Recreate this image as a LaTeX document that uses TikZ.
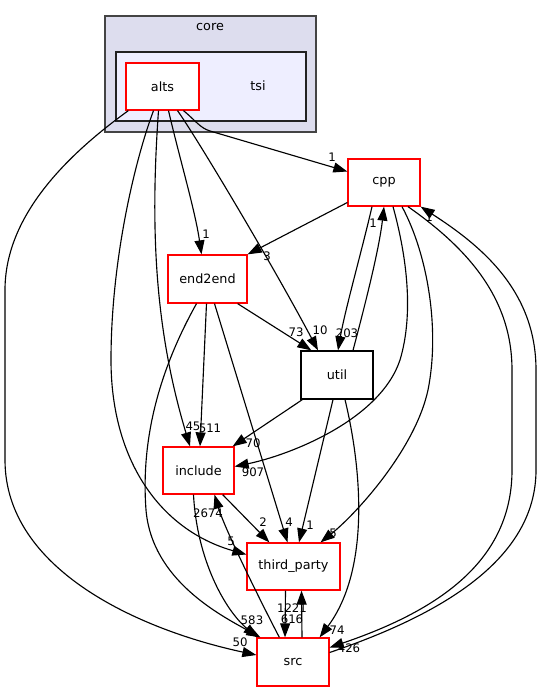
\documentclass[tikz,border=0pt]{standalone}
\usepackage{fontspec}
\setmainfont{DejaVu Sans}
\usetikzlibrary{arrows.meta,calc}
\definecolor{corefill}{HTML}{DDDDEE}
\definecolor{tsifill}{HTML}{EEEEFF}
\definecolor{coreline}{HTML}{444444}
\definecolor{tsiline}{HTML}{222222}
\begin{document}
\begin{tikzpicture}[x=0.75pt,y=-0.75pt,
  box/.style={draw=red,line width=0.95pt,fill=white,minimum width=54pt,minimum height=35.25pt,inner sep=0pt,font=\fontsize{9.6}{11}\selectfont},
  bbox/.style={box,draw=black},
  clab/.style={inner sep=0pt,font=\fontsize{9.6}{11}\selectfont},
  lab/.style={inner sep=0pt,font=\fontsize{8.8}{10}\selectfont},
  dep/.style={line width=0.85pt,-{Triangle[length=10.5pt,width=7.5pt]}}]
\useasboundingbox (0,0) rectangle (541,692);
\fill[white] (0,0) rectangle (541,692);
% clusters
\filldraw[fill=corefill,draw=coreline,line width=1.1pt] (105,16) rectangle (316,132);
\filldraw[fill=tsifill,draw=tsiline,line width=0.95pt] (116,52) rectangle (306,121);
\node[clab] (corelab) at (210,27) {core};
\node[clab] (tsilab) at (258,86) {tsi};
% nodes
\node[box,minimum width=54.75pt] (alts) at (162.5,86.5) {alts};
\node[box] (cpp) at (384,182.5) {cpp};
\node[box,minimum width=59.25pt,minimum height=36pt] (end2end) at (207.5,279) {end2end};
\node[bbox,minimum height=36pt] (util) at (337,375) {util};
\node[box,minimum width=53.25pt] (include) at (198.5,470.5) {include};
\node[box,minimum width=69.75pt] (tp) at (293.5,566.5) {third\_party};
\node[box,minimum height=36pt] (src) at (293,662) {src};
% edges from alts
\draw[dep] ($(alts.south)+(21,0)$) .. controls (195,120) and (200,128) .. (210,131) -- ($(cpp.west)+(0,-11)$);
\draw[dep] ($(alts.south)+(6,0)$) .. controls (180,160) and (195,210) .. ($(end2end.north)+(-6,0)$);
\draw[dep] ($(alts.south)+(15,0)$) .. controls (195,135) and (270,260) .. ($(util.north)+(-19,0)$);
\draw[dep] ($(alts.south)+(-4,0)$) .. controls (150,230) and (155,330) .. ($(include.north)+(-8.5,0)$);
\draw[dep] ($(alts.south)+(-9,0)$) .. controls (135,160) and (111,260) .. (111,360) .. controls (111,460) and (160,530) .. ($(tp.west)+(0,-12)$);
\draw[dep] ($(alts.south west)+(3,0)$) .. controls (60,160) and (5,220) .. (5,290) -- (5,460) .. controls (5,570) and (140,630) .. ($(src.west)+(0,-7)$);
% edges from cpp
\draw[dep] ($(cpp.west)+(0,20)$) -- (end2end.north east);
\draw[dep] ($(cpp.south)+(-12,0)$) .. controls (362,250) and (345,310) .. ($(util.north)+(1,0)$);
\draw[dep] ($(cpp.south)+(9,0)$) .. controls (405,250) and (415,310) .. (400,360) .. controls (380,420) and (290,455) .. ($(include.east)+(0,-4)$);
\draw[dep] ($(cpp.south)+(18,0)$) .. controls (428,255) and (440,330) .. (428,390) .. controls (415,450) and (355,515) .. ($(tp.north)+(27,0)$);
\draw[dep] ($(cpp.south)+(24,0)$) .. controls (470,250) and (512,300) .. (512,370) -- (512,470) .. controls (512,560) and (440,610) .. ($(src.east)+(0,-14.5)$);
% edges from end2end
\draw[dep] ($(end2end.south east)+(-10,0)$) -- ($(util.north west)+(11,0)$);
\draw[dep] ($(end2end.south)+(-1,0)$) -- ($(include.north)+(1.5,0)$);
\draw[dep] ($(end2end.south)+(7,0)$) -- ($(tp.north)+(-6,0)$);
\draw[dep] ($(end2end.south)+(-11,0)$) .. controls (165,360) and (140,430) .. (146,510) .. controls (152,580) and (220,615) .. ($(src.north west)+(4,0)$);
% edges from util
\draw[dep] ($(util.north)+(16,0)$) .. controls (365,305) and (379,250) .. (cpp.south);
\draw[dep] ($(util.south west)+(2,0)$) -- ($(include.north east)+(-2,0)$);
\draw[dep] ($(util.south)+(-4,0)$) -- ($(tp.north)+(5.5,0)$);
\draw[dep] ($(util.south)+(8,0)$) .. controls (362,470) and (370,570) .. ($(src.north east)+(-10,0)$);
% edges from include
\draw[dep] ($(include.south east)+(-12,0)$) -- ($(tp.north west)+(23,0)$);
\draw[dep] ($(include.south)+(-5,0)$) .. controls (197,560) and (225,610) .. ($(src.north west)+(1,0)$);
% edges from third_party and src
\draw[dep] ($(tp.south)+(-8,0)$) -- ($(src.north)+(-8,0)$);
\draw[dep] ($(src.north)+(9,0)$) -- ($(tp.south)+(8,0)$);
\draw[dep] ($(src.north west)+(23,0)$) .. controls (265,610) and (225,530) .. ($(include.south)+(16,0)$);
\draw[dep] ($(src.east)+(0,-9.5)$) .. controls (440,615) and (536,560) .. (536,470) -- (536,370) .. controls (536,290) and (480,245) .. (cpp.south east);
% labels
\node[lab] (l1) at (332,157) {1};
\node[lab] (l2) at (206,234) {1};
\node[lab] (l3) at (267,256) {3};
\node[lab] (l4) at (296,332) {73};
\node[lab] (l5) at (320,330) {10};
\node[lab] (l6) at (347,333) {203};
\node[lab] (l7) at (373,223) {1};
\node[lab] (l8) at (429,217) {1};
\node[lab] (l9) at (193,426) {45};
\node[lab] (l10) at (210,428) {511};
\node[lab] (l11) at (253,443) {70};
\node[lab] (l12) at (253,472) {907};
\node[lab] (l13) at (208,513) {2674};
\node[lab] (l14) at (263,522) {2};
\node[lab] (l15) at (289,522) {4};
\node[lab] (l16) at (310,525) {1};
\node[lab] (l17) at (333,533) {5};
\node[lab] (l18) at (231,541) {5};
\node[lab] (l19) at (248,620) {58};
\node[lab] (l20) at (259.5,620) {3};
\node[lab] (l21) at (240,642) {50};
\node[lab] (l22) at (337,630) {74};
\node[lab] (l23) at (349,648) {426};
\node[lab] (l24) at (292,608) {1221};
\node[lab] (l25) at (292,619) {616};
\end{tikzpicture}
\end{document}
